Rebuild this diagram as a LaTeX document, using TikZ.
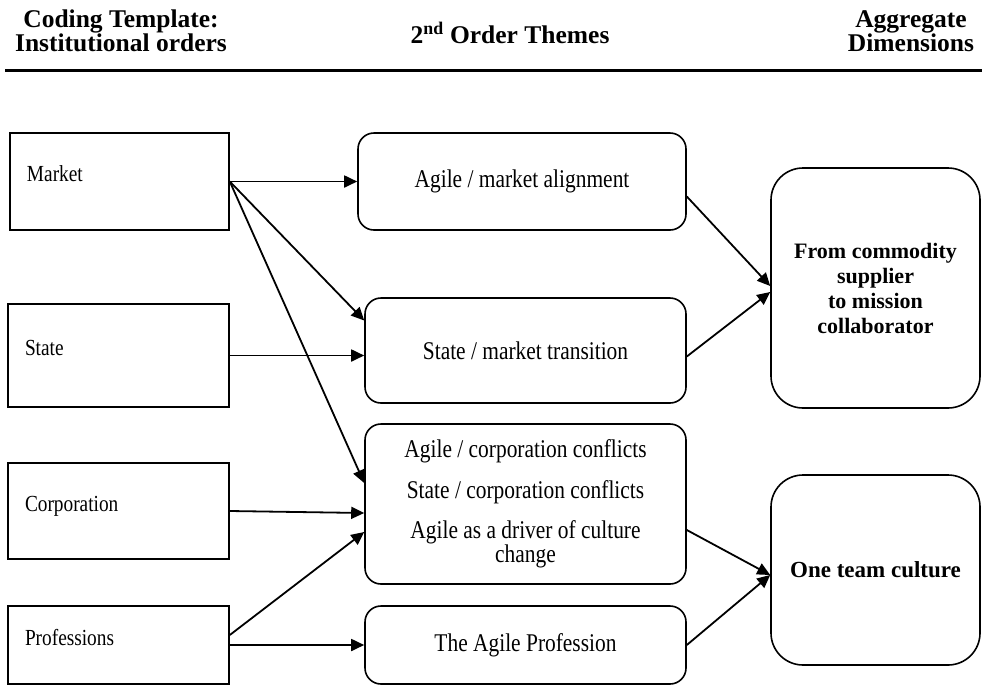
\documentclass[tikz,border=0pt]{standalone}
\usepackage{fontspec}
\setmainfont{Liberation Serif}
\newfontfamily\tallserif[FakeStretch=0.84]{Liberation Serif}
\usetikzlibrary{arrows.meta}
\tikzset{
  order/.style={draw, line width=1.6pt, inner xsep=17pt, align=left,
    text height=12pt, text depth=12pt,
    font=\tallserif\fontsize{23}{22}\selectfont},
  theme/.style={draw, line width=1.6pt, rounded corners=16pt, align=center,
    font=\tallserif\fontsize{25.5}{22}\selectfont},
  dimension/.style={draw, line width=1.6pt, rounded corners=32pt, align=center,
    font=\bfseries\fontsize{22}{25}\selectfont},
  header/.style={align=center, font=\bfseries\fontsize{25.5}{22}\selectfont},
  link/.style={-{Triangle[length=13pt,width=12pt]}, line width=1.8pt}
}
\begin{document}
\begin{tikzpicture}[x=1pt,y=-1pt]
  \useasboundingbox (0,0) rectangle (982,686);
  % column titles
  \node[header] (hd1) at (121,31) {Coding Template:\\Institutional orders};
  \node[header] (hd2) at (510,33) {2\textsuperscript{nd} Order Themes};
  \node[header] (hd3) at (911,31) {Aggregate\\Dimensions};
  \coordinate (rulel) at (5,70);
  \coordinate (ruler) at (982,70);
  \draw[line width=3pt] (rulel) -- (ruler);
  % institutional orders
  \node[order, minimum width=219pt, minimum height=97pt, text width=185pt] (mkt) at (119.5,181.5) {Market};
  \node[order, minimum width=221pt, minimum height=103pt, text width=187pt] (sta) at (118.5,355.5) {State};
  \node[order, minimum width=221pt, minimum height=96pt, text width=187pt] (cor) at (118.5,511) {Corporation};
  \node[order, minimum width=221pt, minimum height=78pt, text width=187pt] (pro) at (118.5,645) {Professions};
  % 2nd order themes
  \node[theme, minimum width=328pt, minimum height=97pt] (amk) at (522,181.5) {Agile / market alignment};
  \node[theme, minimum width=321pt, minimum height=105pt] (smk) at (525.5,350.5) {State / market transition};
  \node[theme, minimum width=321pt, minimum height=160pt] (con) at (525.5,504)
    {Agile / corporation conflicts\\[16pt]State / corporation conflicts\\[16pt]Agile as a driver of culture\\change};
  \node[theme, minimum width=321pt, minimum height=78pt] (apr) at (525.5,645) {The Agile Profession};
  % aggregate dimensions
  \node[dimension, minimum width=209pt, minimum height=240pt] (com) at (875.5,288)
    {From commodity\\supplier\\to mission\\collaborator};
  \node[dimension, minimum width=209pt, minimum height=190pt, font=\bfseries\fontsize{23}{25}\selectfont] (ote) at (875.5,570) {One team culture};
  % links
  \draw[link] (mkt.east) -- (amk.west);
  \draw[link] (mkt.east) -- ([yshift=30pt]smk.west);
  \draw[link] (mkt.east) -- ([yshift=21pt]con.west);
  \draw[link] (sta.east) -- (sta.east -| smk.west);
  \draw[link] (cor.east) -- ([yshift=-9pt]con.west);
  \draw[link] ([yshift=10pt]pro.east) -- ([yshift=-28pt]con.west);
  \draw[link] (pro.east) -- (apr.west);
  \draw[link] ([yshift=-15pt]amk.east) -- ([yshift=2pt]com.west);
  \draw[link] ([yshift=-6pt]smk.east) -- ([yshift=-4pt]com.west);
  \draw[link] ([yshift=-26pt]con.east) -- ([yshift=-5pt]ote.west);
  \draw[link] (apr.east) -- ([yshift=-5pt]ote.west);
\end{tikzpicture}
\end{document}
